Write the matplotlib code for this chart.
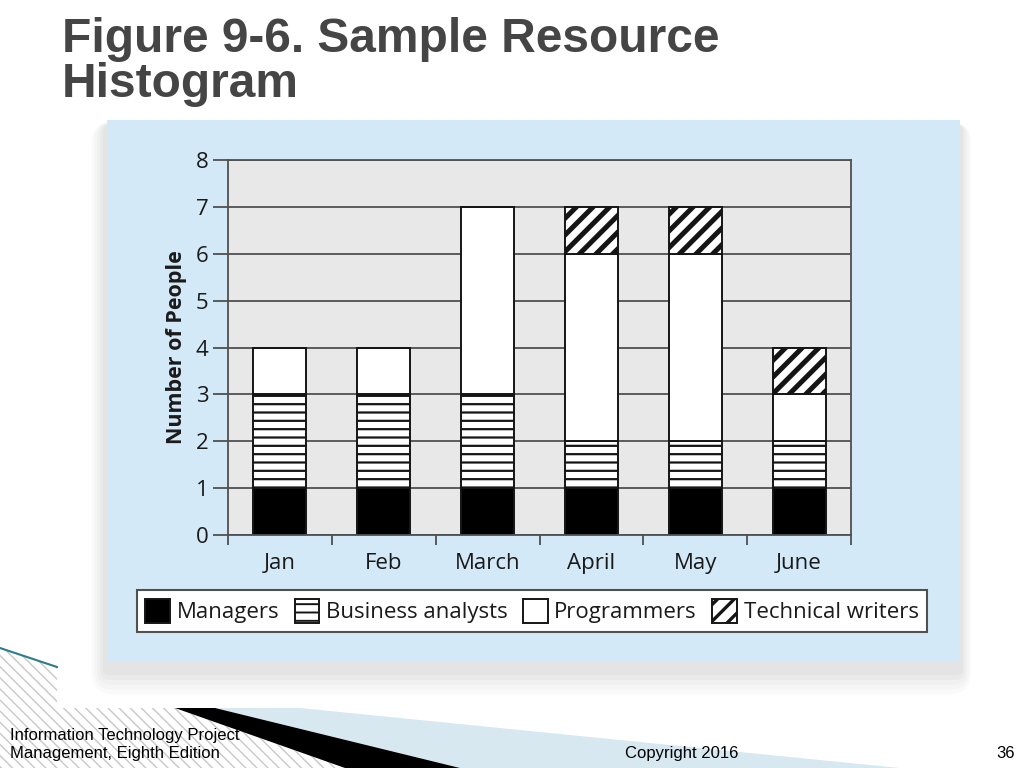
import matplotlib.pyplot as plt
import numpy as np
from matplotlib.patches import Polygon, Rectangle, FancyBboxPatch

plt.rcParams['font.family'] = ['Open Sans', 'DejaVu Sans']

months = ['Jan', 'Feb', 'March', 'April', 'May', 'June']
managers = [1, 1, 1, 1, 1, 1]
analysts = [2, 2, 2, 1, 1, 1]
programmers = [1, 1, 4, 4, 4, 1]
writers = [0, 0, 0, 1, 1, 1]

series = [
    ('Managers', managers, 'black', None),
    ('Business analysts', analysts, 'white', '--'),
    ('Programmers', programmers, 'white', None),
    ('Technical writers', writers, 'white', '//'),
]

fig = plt.figure(figsize=(10.24, 7.68), dpi=100)

# slide background decorations (pixel coordinates)
bg = fig.add_axes([0, 0, 1, 1], zorder=-5)
bg.set_xlim(0, 1024)
bg.set_ylim(768, 0)
bg.axis('off')

bg.add_patch(Polygon([(0, 648), (57, 667), (57, 708), (175, 708), (345, 768), (0, 768)],
                     closed=True, facecolor='white', edgecolor='#c8c8c8', lw=0, hatch='\\\\\\'))
bg.plot([0, 57], [648, 667], color='#2b7d8c', lw=1.5)
bg.add_patch(Polygon([(215, 708), (300, 708), (900, 768), (460, 768)],
                     closed=True, facecolor='#d8e8f1', edgecolor='none'))
bg.add_patch(Polygon([(175, 708), (215, 708), (460, 768), (345, 768)],
                     closed=True, facecolor='black', edgecolor='none'))

# screenshot area with soft shadow
bg.add_patch(Rectangle((57, 110), 928, 598, facecolor='white', edgecolor='none'))
for i, a in enumerate([0.03, 0.03, 0.035, 0.04, 0.045]):
    g = 22 - i * 4
    bg.add_patch(FancyBboxPatch((107 - g * 0.7, 126 - g * 0.2), 853 + g * 1.2, 542 + g * 1.4,
                                boxstyle='round,pad=0,rounding_size=%d' % g,
                                facecolor='#707070', edgecolor='none', alpha=a))
bg.add_patch(Rectangle((107, 120), 853, 542, facecolor='#d4e9f8', edgecolor='none'))

# title and footer
title_font = ['Liberation Sans Narrow', 'Liberation Sans']
fig.text(62 / 1024, 1 - 52 / 768, 'Figure 9-6. Sample Resource', family=title_font,
         fontweight='bold', fontsize=34.5, color='#454545', va='baseline')
fig.text(62 / 1024, 1 - 97 / 768, 'Histogram', family=title_font,
         fontweight='bold', fontsize=34.5, color='#454545', va='baseline')
fig.text(10 / 1024, 1 - 740 / 768, 'Information Technology Project',
         family='Liberation Sans', fontsize=12, color='black', va='baseline')
fig.text(10 / 1024, 1 - 758 / 768, 'Management, Eighth Edition',
         family='Liberation Sans', fontsize=12, color='black', va='baseline')
fig.text(625 / 1024, 1 - 758 / 768, 'Copyright 2016',
         family='Liberation Sans', fontsize=12, color='black', va='baseline')
fig.text(1015 / 1024, 1 - 758 / 768, '36',
         family='Liberation Sans', fontsize=12, color='black', va='baseline', ha='right')

# chart
ax = fig.add_axes([228 / 1024, 1 - 535 / 768, 623 / 1024, 375 / 768])
ax.set_facecolor('#e8e8e8')
x = np.arange(len(months))
bottom = np.zeros(len(months))
handles = []
hatch_lw = {'//': 3.6, '--': 1.6}
for name, vals, fc, hatch in series:
    vals = np.array(vals, dtype=float)
    bars = ax.bar(x, vals, 0.51, bottom=bottom, color=fc, edgecolor='#151515',
                  linewidth=1.4, hatch=hatch, label=name, zorder=3)
    for b in bars:
        if hatch and hasattr(b, 'set_hatch_linewidth'):
            b.set_hatch_linewidth(hatch_lw[hatch])
    handles.append(bars)
    bottom += vals

ax.set_xlim(-0.5, 5.5)
ax.set_ylim(0, 8)
ax.set_yticks(range(9))
ax.yaxis.grid(True, color='#505050', lw=1.3, zorder=1)
ax.set_axisbelow(True)
for s in ax.spines.values():
    s.set_color('#505050')
    s.set_linewidth(1.3)
ax.spines['bottom'].set_visible(False)

ax.set_xticks(x)
ax.set_xticklabels(months, fontsize=16, color='#1a1a1a')
ax.set_xticks(np.arange(-0.5, 6, 1), minor=True)
ax.tick_params(axis='x', which='major', length=0, pad=13)
ax.tick_params(axis='x', which='minor', length=7, width=1.3, color='#505050', direction='out')
ax.tick_params(axis='y', length=11, width=1.3, color='#505050', labelsize=16,
               labelcolor='#1a1a1a', pad=3)
ax.axhline(0, color='#505050', lw=1.3, zorder=4, clip_on=False)
ax.set_ylabel('Number of People', fontsize=15.5, fontweight='bold', color='#1a1a1a', labelpad=6)

leg = fig.legend(handles=handles, loc='center', bbox_to_anchor=(532 / 1024, 1 - 611 / 768),
                 ncol=4, fontsize=16, frameon=True, fancybox=False, framealpha=1,
                 edgecolor='#505050', handlelength=1.1, handleheight=1.3,
                 handletextpad=0.3, columnspacing=0.7, borderpad=0.4)
leg.get_frame().set_linewidth(1.5)
for t in leg.get_texts():
    t.set_color('#1a1a1a')
for h, (_, _, _, hatch) in zip(leg.legend_handles, series):
    if hatch and hasattr(h, 'set_hatch_linewidth'):
        h.set_hatch_linewidth(2.4 if hatch == '//' else 1.4)

fig.savefig('out.png', dpi=100)
